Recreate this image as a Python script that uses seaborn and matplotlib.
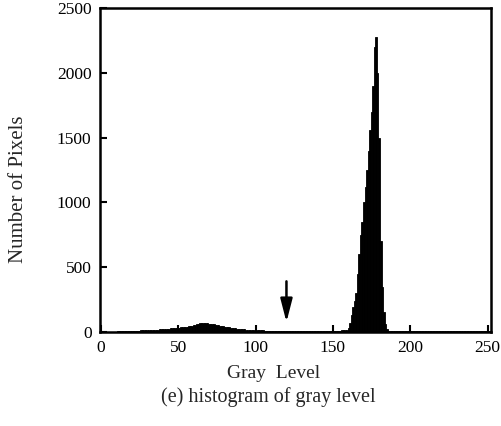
import numpy as np
import pandas as pd
import matplotlib
matplotlib.use("Agg")
import matplotlib.pyplot as plt
import seaborn as sns

# pixel counts per gray level 0..255
counts = [
    0, 0, 0, 0, 1, 1, 1, 2, 2, 2,              # 0-9
    2, 3, 3, 3, 4, 4, 5, 5, 6, 6,              # 10-19
    7, 8, 8, 9, 10, 10, 11, 12, 12, 13,        # 20-29
    14, 14, 15, 16, 16, 17, 18, 18, 19, 20,    # 30-39
    21, 22, 22, 23, 24, 26, 27, 28, 29, 30,    # 40-49
    31, 32, 34, 35, 37, 39, 41, 44, 46, 49,    # 50-59
    52, 55, 58, 62, 66, 70, 72, 70, 68, 66,    # 60-69
    64, 62, 60, 57, 55, 52, 50, 47, 45, 42,    # 70-79
    40, 38, 36, 34, 32, 30, 28, 26, 25, 24,    # 80-89
    22, 21, 20, 19, 18, 17, 16, 15, 14, 14,    # 90-99
    14, 13, 12, 12, 11, 11, 10, 10, 10, 9,     # 100-109
    9, 9, 8, 8, 8, 8, 7, 7, 7, 7,              # 110-119
    7, 6, 6, 6, 6, 6, 6, 6, 6, 6,              # 120-129
    6, 6, 6, 6, 6, 6, 6, 6, 6, 6,              # 130-139
    6, 6, 6, 6, 6, 6, 6, 6, 6, 6,              # 140-149
    7, 7, 8, 8, 9, 10, 11, 12, 14, 18,         # 150-159
    30, 70, 130, 190, 240, 300, 450, 600, 750, 850,        # 160-169
    1000, 1120, 1250, 1400, 1560, 1700, 1900, 2200, 2280, 2000,  # 170-179
    1500, 700, 350, 150, 60, 20, 8, 5, 5, 5,   # 180-189
    5, 5, 5, 5, 5, 5, 5, 5, 5, 5,              # 190-199
    5, 5, 5, 5, 5, 5, 5, 5, 5, 5,              # 200-209
    4, 4, 4, 4, 4, 4, 4, 4, 4, 4,              # 210-219
    4, 4, 4, 4, 4, 4, 4, 4, 4, 4,              # 220-229
    4, 4, 4, 4, 4, 4, 4, 4, 4, 4,              # 230-239
    4, 4, 4, 4, 4, 4, 4, 4, 4, 4,              # 240-249
    6, 4, 0, 0, 0, 0,                          # 250-255
]
gray_levels = list(range(256))
x_ticks = [0, 50, 100, 150, 200, 250]
y_ticks = [0, 500, 1000, 1500, 2000, 2500]
arrow_level = 120

df = pd.DataFrame({"gray": gray_levels, "count": counts})

sns.set_style("ticks")
plt.rcParams["font.family"] = ["Liberation Serif", "DejaVu Serif"]

fig = plt.figure(figsize=(5.02, 4.26), dpi=100)
ax = fig.add_axes([0.199, 0.221, 0.779, 0.760])

sns.histplot(data=df, x="gray", weights="count", discrete=True,
             element="bars", shrink=1, fill=True, color="black", alpha=1,
             edgecolor="black", linewidth=0.6, ax=ax)

ax.annotate("", xy=(arrow_level, 75), xytext=(arrow_level, 390),
            arrowprops=dict(arrowstyle="-|>,head_length=0.7,head_width=0.18",
                            color="black", lw=1.8, mutation_scale=20,
                            shrinkA=0, shrinkB=0))

ax.set_xlim(-0.6, 252.2)
ax.set_ylim(0, 2500)
ax.set_xticks(x_ticks)
ax.set_yticks(y_ticks)
ax.tick_params(direction="in", length=5, width=1.5, labelsize=12.5, pad=6,
               colors="black")
for s in ax.spines.values():
    s.set_linewidth(1.8)
    s.set_color("black")

ax.set_xlabel("Gray  Level", fontsize=14)
ax.set_ylabel("Number of Pixels", fontsize=15)
ax.xaxis.set_label_coords(0.445, -0.103)
ax.yaxis.set_label_coords(-0.185, 0.44)

fig.text(0.535, 0.068, "(e) histogram of gray level", fontsize=14.5,
         ha="center", va="center")

fig.savefig("out.png", dpi=100)
plt.close(fig)
